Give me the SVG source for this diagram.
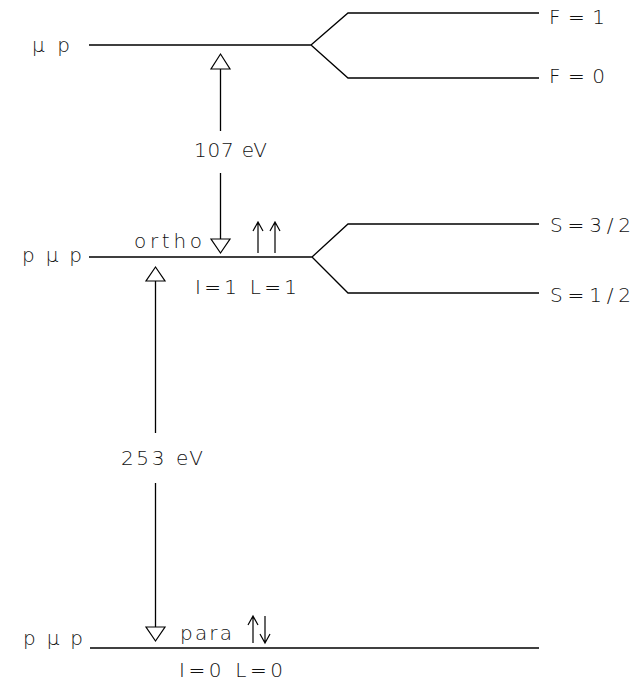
<svg xmlns="http://www.w3.org/2000/svg" width="642" height="681" viewBox="0 0 642 681">
<style>
.ln{fill:none;stroke:#000;stroke-width:1.3;stroke-linejoin:miter}
.ah{fill:#fff;stroke:#000;stroke-width:1.2}
.sp{fill:none;stroke:#000;stroke-width:1.2}
text{font-family:"DejaVu Sans","Liberation Sans",sans-serif;font-weight:200;font-size:20px;fill:#111}
</style>
<rect width="642" height="681" fill="#fff"/>
<g id="level-mup">
<path class="ln" d="M89 45H311M311 45L348 13H539M311 45L348 78H539"/>
<text x="32" y="52" textLength="38" lengthAdjust="spacing">μp</text>
<text x="549" y="24" textLength="56" lengthAdjust="spacing">F=1</text>
<text x="549" y="83" textLength="56" lengthAdjust="spacing">F=0</text>
</g>
<g id="level-ortho">
<path class="ln" d="M89 257H312M312 257L348 224H539M312 257L348 293H539"/>
<text x="22" y="262" textLength="60" lengthAdjust="spacing">pμp</text>
<text x="134" y="248" textLength="68" lengthAdjust="spacing">ortho</text>
<text x="195" y="294" textLength="102" lengthAdjust="spacing">I=1 L=1</text>
<text x="550" y="232" textLength="81" lengthAdjust="spacing">S=3/2</text>
<text x="550" y="302" textLength="81" lengthAdjust="spacing">S=1/2</text>
<path class="sp" d="M258 253V222M253 231L258 222L263 231M275 253V222M270 231L275 222L280 231"/>
</g>
<g id="level-para">
<path class="ln" d="M90 648H539"/>
<text x="23" y="645" textLength="60" lengthAdjust="spacing">pμp</text>
<text x="180" y="640" textLength="52" lengthAdjust="spacing">para</text>
<text x="179" y="677" textLength="104" lengthAdjust="spacing">I=0 L=0</text>
<path class="sp" d="M253 643V616M248 625L253 616L258 625M265 616V643M260 634L265 643L270 634"/>
</g>
<g id="connectors">
<path class="ln" d="M220.5 69V131M220.5 173V239"/>
<polygon class="ah" points="211,69 230,69 220.5,54"/>
<polygon class="ah" points="211,239 230,239 220.5,253"/>
<text x="194" y="157" textLength="73" lengthAdjust="spacing">107 eV</text>
<path class="ln" d="M155.5 281V433M155.5 483V627"/>
<polygon class="ah" points="146,281 165,281 155.5,267"/>
<polygon class="ah" points="146,627 165,627 155.5,641"/>
<text x="121" y="465" textLength="82" lengthAdjust="spacing">253 eV</text>
</g>
</svg>
